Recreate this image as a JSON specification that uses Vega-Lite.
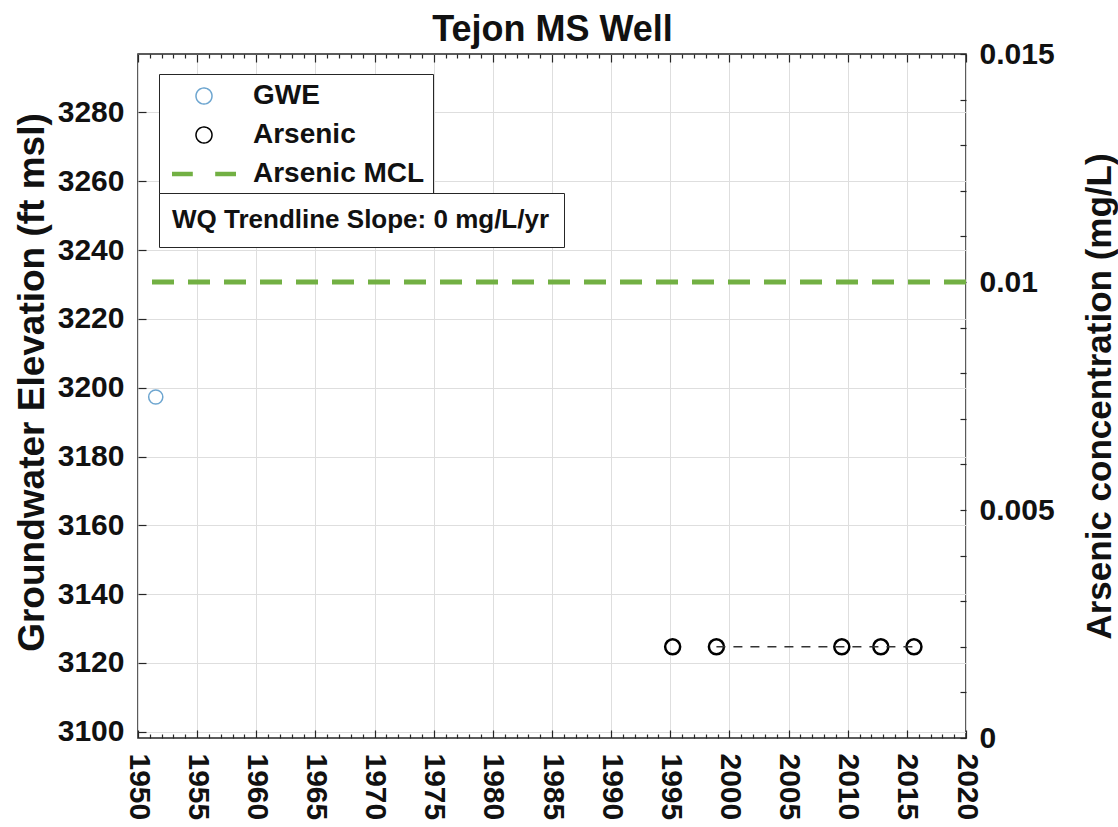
{
  "$schema": "https://vega.github.io/schema/vega-lite/v6.json",
  "width": 828,
  "height": 684,
  "autosize": {"type": "none"},
  "padding": {"left": 138, "top": 54, "right": 152, "bottom": 89},
  "background": "white",
  "config": {
    "font": "Liberation Sans",
    "view": {"stroke": "#262626", "strokeWidth": 1.5, "fill": "white"},
    "axis": {
      "labelFont": "Liberation Sans", "labelFontWeight": "bold", "labelFontSize": 30, "labelColor": "#111111",
      "titleFont": "Liberation Sans", "titleFontWeight": "bold", "titleFontSize": 35, "titleColor": "#111111",
      "domain": false, "tickColor": "#262626", "tickWidth": 1.2, "gridColor": "#dedede", "gridWidth": 1,
      "labelOverlap": false, "labelBound": false, "labelFlush": false
    }
  },
  "resolve": {"scale": {"y": "independent"}, "axis": {"x": "independent"}},
  "layer": [
    {
      "data": {"values": [{"year": 1951.5, "gwe": 3197.3, "series": "GWE"}]},
      "mark": {"type": "point", "filled": false, "size": 200, "strokeWidth": 1.5, "opacity": 1},
      "encoding": {
        "x": {
          "field": "year", "type": "quantitative",
          "scale": {"domain": [1950, 2020], "nice": false, "zero": false},
          "axis": {
            "orient": "bottom", "title": null, "format": "d",
            "values": [1950,1951,1952,1953,1954,1955,1956,1957,1958,1959,1960,1961,1962,1963,1964,1965,1966,1967,1968,1969,1970,1971,1972,1973,1974,1975,1976,1977,1978,1979,1980,1981,1982,1983,1984,1985,1986,1987,1988,1989,1990,1991,1992,1993,1994,1995,1996,1997,1998,1999,2000,2001,2002,2003,2004,2005,2006,2007,2008,2009,2010,2011,2012,2013,2014,2015,2016,2017,2018,2019,2020],
            "labelExpr": "datum.value % 5 === 0 ? datum.label : ''",
            "labelAngle": 90, "labelAlign": "left", "labelBaseline": "middle", "labelPadding": 23,
            "tickSize": {"condition": {"test": "datum.value % 5 === 0", "value": -8}, "value": -4},
            "grid": true,
            "gridOpacity": {"condition": {"test": "datum.value % 5 === 0", "value": 1}, "value": 0}
          }
        },
        "y": {
          "field": "gwe", "type": "quantitative",
          "scale": {"domain": [3098.2, 3297], "nice": false, "zero": false},
          "axis": {
            "orient": "left", "format": "d", "values": [3100,3120,3140,3160,3180,3200,3220,3240,3260,3280],
            "tickSize": -8, "labelPadding": 22, "grid": true,
            "title": "Groundwater Elevation (ft msl)", "titleFontSize": 37, "titleAngle": 270, "titleX": -95, "titleY": 328,
            "titleAlign": "center", "titleBaseline": "alphabetic"
          }
        },
        "color": {
          "field": "series", "type": "nominal",
          "scale": {"domain": ["GWE", "Arsenic", "Arsenic MCL"], "range": ["#6ea6d0", "#000000", "#72b043"]},
          "legend": {
            "orient": "none", "legendX": 21, "legendY": 20, "title": null, "direction": "vertical",
            "padding": 8, "strokeColor": "#262626", "fillColor": "white",
            "labelFont": "Liberation Sans", "labelFontSize": 28, "labelFontWeight": "bold", "labelColor": "#111111",
            "labelOffset": 35, "labelLimit": 0, "rowPadding": 11, "symbolSize": 256, "symbolOffset": 23, "symbolStrokeWidth": 1.5,
            "symbolDash": [1, 0], "symbolFillColor": "transparent"
          }
        },
        "shape": {
          "field": "series", "type": "nominal",
          "scale": {"domain": ["GWE", "Arsenic", "Arsenic MCL"], "range": ["circle", "circle", "M-4,-0.2H-1.4M-4,0H-1.4M-4,0.2H-1.4M1.4,-0.2H4M1.4,0H4M1.4,0.2H4"]}
        }
      }
    },
    {
      "data": {"values": [
        {"year": 1995.2, "arsenic": 0.002, "series": "Arsenic"},
        {"year": 1998.9, "arsenic": 0.002, "series": "Arsenic"},
        {"year": 2009.5, "arsenic": 0.002, "series": "Arsenic"},
        {"year": 2012.8, "arsenic": 0.002, "series": "Arsenic"},
        {"year": 2015.6, "arsenic": 0.002, "series": "Arsenic"}
      ]},
      "mark": {"type": "point", "filled": false, "size": 225, "strokeWidth": 2.5, "opacity": 1},
      "encoding": {
        "x": {
          "field": "year", "type": "quantitative",
          "scale": {"domain": [1950, 2020], "nice": false, "zero": false},
          "axis": {
            "orient": "top", "labels": false, "grid": false,
            "values": [1950,1951,1952,1953,1954,1955,1956,1957,1958,1959,1960,1961,1962,1963,1964,1965,1966,1967,1968,1969,1970,1971,1972,1973,1974,1975,1976,1977,1978,1979,1980,1981,1982,1983,1984,1985,1986,1987,1988,1989,1990,1991,1992,1993,1994,1995,1996,1997,1998,1999,2000,2001,2002,2003,2004,2005,2006,2007,2008,2009,2010,2011,2012,2013,2014,2015,2016,2017,2018,2019,2020],
            "tickSize": {"condition": {"test": "datum.value % 5 === 0", "value": -8}, "value": -4},
            "title": "Tejon MS Well", "titleFontSize": 36, "titleAngle": 0, "titleX": 414, "titleY": -14,
            "titleAlign": "center", "titleBaseline": "alphabetic"
          }
        },
        "y": {
          "field": "arsenic", "type": "quantitative",
          "scale": {"domain": [0, 0.015], "nice": false, "zero": false},
          "axis": {
            "orient": "right", "grid": false,
            "values": [0, 0.001, 0.002, 0.003, 0.004, 0.005, 0.006, 0.007, 0.008, 0.009, 0.01, 0.011, 0.012, 0.013, 0.014, 0.015],
            "labelExpr": "datum.value === 0 ? '0' : datum.value === 0.005 ? '0.005' : datum.value === 0.01 ? '0.01' : datum.value === 0.015 ? '0.015' : ''",
            "tickSize": -6, "labelPadding": 19, "labelAlign": "left", "labelBaseline": "middle",
            "title": "Arsenic concentration (mg/L)", "titleAngle": 270, "titleX": 144, "titleY": 342,
            "titleAlign": "center", "titleBaseline": "alphabetic"
          }
        },
        "color": {"field": "series", "type": "nominal"},
        "shape": {"field": "series", "type": "nominal"}
      }
    },
    {
      "data": {"values": [
        {"year": 1998.9, "arsenic": 0.002, "trend": "WQ Trendline Slope: 0 mg/L/yr"},
        {"year": 2015.6, "arsenic": 0.002, "trend": "WQ Trendline Slope: 0 mg/L/yr"}
      ]},
      "mark": {"type": "line", "strokeDash": [9, 8], "strokeWidth": 1.5, "color": "#333333"},
      "encoding": {
        "x": {"field": "year", "type": "quantitative", "scale": {"domain": [1950, 2020], "nice": false, "zero": false}, "axis": null},
        "y": {"field": "arsenic", "type": "quantitative", "scale": {"domain": [0, 0.015], "nice": false, "zero": false}, "axis": null},
        "opacity": {
          "field": "trend", "type": "nominal",
          "scale": {"range": [1, 1]},
          "legend": {
            "orient": "none", "legendX": 21, "legendY": 139, "title": null,
            "padding": 14, "strokeColor": "#262626", "fillColor": "white",
            "labelFont": "Liberation Sans", "labelFontSize": 26, "labelFontWeight": "bold", "labelColor": "#111111",
            "labelOffset": -27, "labelLimit": 0, "symbolSize": 1, "symbolOpacity": 0, "symbolStrokeWidth": 0
          }
        }
      }
    },
    {
      "data": {"values": [{"mcl": 0.01, "series": "Arsenic MCL"}]},
      "mark": {"type": "rule", "strokeWidth": 5, "strokeDash": [22, 14]},
      "encoding": {
        "y": {"field": "mcl", "type": "quantitative", "scale": {"domain": [0, 0.015], "nice": false, "zero": false}, "axis": null},
        "color": {"field": "series", "type": "nominal", "legend": null}
      }
    }
  ]
}
